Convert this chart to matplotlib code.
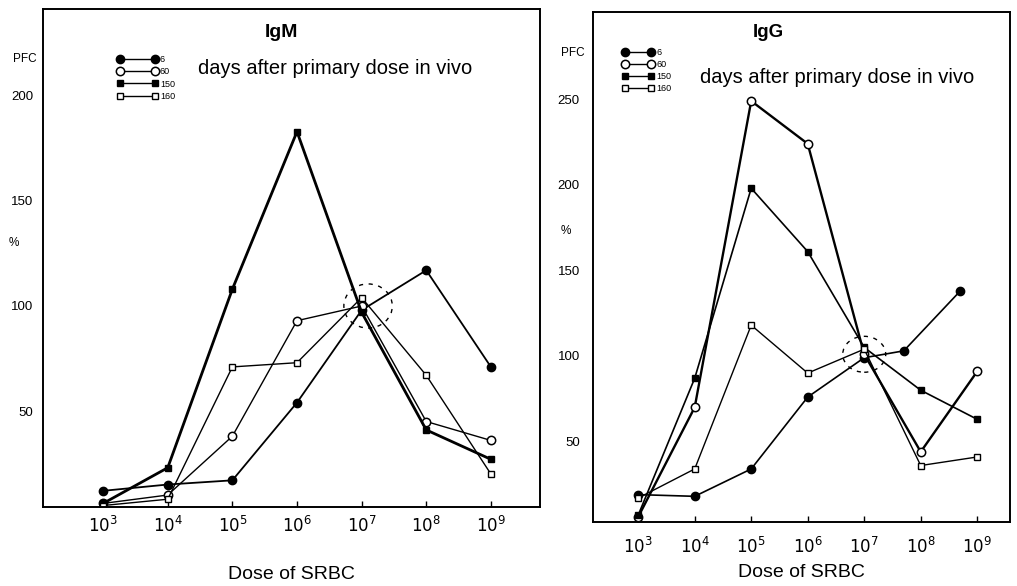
import numpy as np
import matplotlib
matplotlib.use("Agg")
import matplotlib.pyplot as plt
from matplotlib.patches import Ellipse
from matplotlib.lines import Line2D

plt.rcParams['font.family'] = ['Liberation Sans', 'DejaVu Sans']

# doses (log10 of SRBC dose)
dose = [3, 4, 5, 6, 7, 8, 9]
dose_igg6 = [3, 4, 5, 6, 7, 7.7, 8.7]

# IgM, % of PFC
igm_d6 = [12, 15, 17, 54, 98, 117, 71]
igm_d60 = [6, 10, 38, 93, 100, 45, 36]
igm_d150 = [6, 23, 108, 183, 97, 41, 27]
igm_d160 = [5, 8, 71, 73, 104, 67, 20]

# IgG, % of PFC
igg_d6 = [19, 18, 34, 76, 99, 103, 138]
igg_d60 = [6, 70, 249, 224, 101, 44, 91]
igg_d150 = [7, 87, 198, 161, 105, 80, 63]
igg_d160 = [17, 34, 118, 90, 104, 36, 41]

series_names = ['6', '60', '150', '160']
legend_text = 'days after primary dose in vivo'

styles = [
    dict(marker='o', ms=6, mfc='black', mec='black'),
    dict(marker='o', ms=6, mfc='white', mec='black', mew=1.1),
    dict(marker='s', ms=4.5, mfc='black', mec='black'),
    dict(marker='s', ms=4.5, mfc='white', mec='black', mew=1.0),
]

W, H = 1017, 586
fig = plt.figure(figsize=(W / 100, H / 100), dpi=100)


def frac(x0, y0, x1, y1):
    return [x0 / W, 1 - y1 / H, (x1 - x0) / W, (y1 - y0) / H]


def setup(ax, xlim, ylim, yticks, xpad, ypad):
    ax.set_xlim(*xlim)
    ax.set_ylim(*ylim)
    ax.set_xticks(dose)
    ax.set_xticklabels([r'$10^{%d}$' % d for d in dose], fontsize=12)
    ax.set_yticks(yticks)
    ax.set_yticklabels([str(t) for t in yticks], fontsize=9.5)
    ax.tick_params(axis='x', direction='in', length=4, width=1, pad=xpad)
    ax.tick_params(axis='y', length=0, pad=ypad)
    for s in ax.spines.values():
        s.set_linewidth(1.4)


# ---- IgM ----
ax1 = fig.add_axes(frac(43, 9, 540, 507))
setup(ax1, (2.07, 9.76), (4.3, 241.4), [50, 100, 150, 200], 6, 7)
lws = [1.3, 1.0, 2.0, 1.0]
for ys, st, lw in zip([igm_d6, igm_d60, igm_d150, igm_d160], styles, lws):
    ax1.plot(dose, ys, color='black', lw=lw, **st)
ax1.add_patch(Ellipse((7.1, 100), 0.75, 21, fill=False, ls=(0, (3, 4)), lw=1.0))
ax1.text(-0.012, 0.90, 'PFC', transform=ax1.transAxes, ha='right', va='center', fontsize=8.5)
ax1.text(-0.058, 0.53, '%', transform=ax1.transAxes, ha='center', va='center', fontsize=8.5)
ax1.text(0.48, 0.953, 'IgM', transform=ax1.transAxes, ha='center', va='center',
         fontsize=14, fontweight='bold')
ax1.text(0.312, 0.8815, legend_text, transform=ax1.transAxes, ha='left', va='center',
         fontsize=14.5)
ax1.set_xlabel('Dose of SRBC', fontsize=14, labelpad=22)

# ---- IgG ----
ax2 = fig.add_axes(frac(593, 12, 1010, 522))
setup(ax2, (2.2, 9.58), (3.0, 301.0), [50, 100, 150, 200, 250], 10, 9.5)
lws = [1.2, 1.7, 1.2, 1.0]
xs = [dose_igg6, dose, dose, dose]
for x, ys, st, lw in zip(xs, [igg_d6, igg_d60, igg_d150, igg_d160], styles, lws):
    ax2.plot(x, ys, color='black', lw=lw, **st)
ax2.add_patch(Ellipse((7.0, 101), 0.76, 21, fill=False, ls=(0, (3, 4)), lw=1.0))
ax2.text(-0.02, 0.92, 'PFC', transform=ax2.transAxes, ha='right', va='center', fontsize=8.5)
ax2.text(-0.065, 0.57, '%', transform=ax2.transAxes, ha='center', va='center', fontsize=8.5)
ax2.text(0.42, 0.96, 'IgG', transform=ax2.transAxes, ha='center', va='center',
         fontsize=13.5, fontweight='bold')
ax2.text(0.2566, 0.8725, legend_text, transform=ax2.transAxes, ha='left', va='center',
         fontsize=14.5)
ax2.set_xlabel('Dose of SRBC', fontsize=14, labelpad=6)

# legends: marker - line - marker, label
for ax, anchor, hl in [(ax1, (0.15, 0.907), 4.4), (ax2, (0.07, 0.93), 3.5)]:
    handles = [Line2D([], [], color='black', lw=1.0, **st) for st in styles]
    ax.legend(handles, series_names, loc='upper left', bbox_to_anchor=anchor,
              numpoints=2, handlelength=hl, fontsize=6.5, frameon=False,
              labelspacing=0.35, handletextpad=0.3, borderpad=0, borderaxespad=0)

fig.savefig('out.png', dpi=100)
